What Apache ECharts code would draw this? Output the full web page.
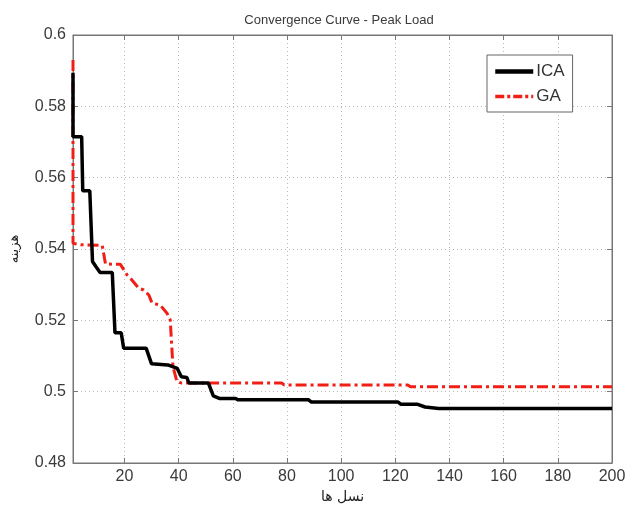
<!DOCTYPE html>
<html>
<head>
<meta charset="utf-8">
<script src="https://cdn.jsdelivr.net/npm/echarts@6/dist/echarts.min.js"></script>
<style>
  html, body { margin: 0; padding: 0; background: #fff; }
  #chart { width: 632px; height: 509px; }
</style>
</head>
<body>
<div id="chart"></div>
<script>
// Generation numbers and best cost for each algorithm (step-wise convergence)
var icaX = [1, 1, 4.2, 4.6, 7.2, 8.2, 9.5, 11, 15.5, 16.5, 18.8, 19.7, 28, 30, 36, 39.5, 41, 43, 43.8, 51, 52.8, 55, 61, 62, 88, 89, 121, 122, 128, 131, 136, 200];
var icaY = [0.5894, 0.5715, 0.5715, 0.5563, 0.5563, 0.5365, 0.535, 0.5334, 0.5334, 0.5165, 0.5165, 0.5122, 0.5122, 0.5078, 0.5075, 0.5065, 0.5042, 0.504, 0.5024, 0.5024, 0.4988, 0.4981, 0.4981, 0.4977, 0.4977, 0.4971, 0.4971, 0.4965, 0.4965, 0.4957, 0.4953, 0.4953];

var gaX = [1, 1, 4, 11.8, 13, 18.5, 21, 22.2, 25.3, 27.1, 29, 30.2, 33.2, 35.7, 36.9, 37.9, 39.4, 41.2, 78, 79, 124.6, 125.6, 200];
var gaY = [0.593, 0.5416, 0.5412, 0.541, 0.5358, 0.5357, 0.5327, 0.5318, 0.529, 0.5285, 0.5271, 0.5248, 0.5243, 0.522, 0.5201, 0.507, 0.5028, 0.5024, 0.5024, 0.5019, 0.5019, 0.5014, 0.5014];

var xTicks = [20, 40, 60, 80, 100, 120, 140, 160, 180, 200];
var seriesNames = ['ICA', 'GA'];
var titleText = 'Convergence Curve - Peak Load';
var xName = 'نسل ها';
var yName = 'هزینه';

function pairs(xs, ys) {
  return xs.map(function (x, i) { return [x, ys[i]]; });
}

var font = '"Liberation Sans", Arial, sans-serif';
var labelColor = '#3a3a3a';
var gridLine = { show: true, lineStyle: { color: '#b8b8b8', width: 1, type: [1, 3] } };
var icaLine = { color: '#000', width: 3.5 };
var gaLine = { color: '#f01e14', width: 3, type: [11, 4, 3, 4] };

var chart = echarts.init(document.getElementById('chart'), null, { renderer: 'canvas' });
chart.setOption({
  animation: false,
  backgroundColor: '#fff',
  title: {
    text: titleText,
    left: 334, top: 9, textAlign: 'center',
    textStyle: { fontFamily: font, fontSize: 13, fontWeight: 'normal', color: '#3a3a3a' }
  },
  grid: {
    left: 72, right: 20, top: 35, bottom: 46,
    show: true, borderColor: '#777', borderWidth: 1, backgroundColor: '#fff'
  },
  legend: {
    orient: 'vertical',
    left: 487, top: 55,
    itemWidth: 38, itemHeight: 14, itemGap: 8,
    padding: [8, 8, 7, 6],
    borderColor: '#666', borderWidth: 1, backgroundColor: '#fff',
    itemStyle: { opacity: 0 },
    textStyle: { fontFamily: font, fontSize: 17, color: '#333', padding: [0, 0, 0, -2] },
    data: [
      { name: seriesNames[0], lineStyle: { color: '#000', width: 4.5 } },
      { name: seriesNames[1], lineStyle: { color: '#f01e14', width: 3.5, type: [9, 3, 3, 3] } }
    ]
  },
  xAxis: [{
    type: 'value', min: 1, max: 200,
    name: xName, nameLocation: 'middle', nameGap: 25,
    nameTextStyle: { fontFamily: '"DejaVu Sans", sans-serif', fontSize: 14, color: '#222' },
    axisLine: { show: true, lineStyle: { color: '#777' } },
    axisTick: { show: true, inside: true, length: 5, customValues: xTicks, lineStyle: { color: '#777' } },
    axisLabel: { customValues: xTicks, fontFamily: font, fontSize: 16, color: labelColor, margin: 6 },
    splitLine: gridLine
  }, {
    type: 'value', min: 1, max: 200, position: 'top',
    axisLine: { show: true, lineStyle: { color: '#777' } },
    axisTick: { show: true, inside: true, length: 5, customValues: xTicks, lineStyle: { color: '#777' } },
    axisLabel: { show: false },
    splitLine: { show: false }
  }],
  yAxis: [{
    type: 'value', min: 0.48, max: 0.6, interval: 0.02,
    name: yName, nameLocation: 'middle', nameGap: 52, nameRotate: 90,
    nameTextStyle: { fontFamily: '"DejaVu Sans", sans-serif', fontSize: 13, color: '#222' },
    axisLine: { show: true, lineStyle: { color: '#777' } },
    axisTick: { show: true, inside: true, length: 5, lineStyle: { color: '#777' } },
    axisLabel: {
      fontFamily: font, fontSize: 16, color: labelColor, margin: 7,
      formatter: function (v) { return String(parseFloat(v.toFixed(2))); }
    },
    splitLine: gridLine
  }, {
    type: 'value', min: 0.48, max: 0.6, interval: 0.02, position: 'right',
    axisLine: { show: true, lineStyle: { color: '#777' } },
    axisTick: { show: true, inside: true, length: 5, lineStyle: { color: '#777' } },
    axisLabel: { show: false },
    splitLine: { show: false }
  }],
  series: [{
    name: seriesNames[1], type: 'line', symbol: 'none',
    data: pairs(gaX, gaY),
    itemStyle: { color: '#f01e14' },
    lineStyle: gaLine,
    z: 2
  }, {
    name: seriesNames[0], type: 'line', symbol: 'none',
    data: pairs(icaX, icaY),
    itemStyle: { color: '#000' },
    lineStyle: icaLine,
    z: 3
  }]
});
</script>
</body>
</html>
